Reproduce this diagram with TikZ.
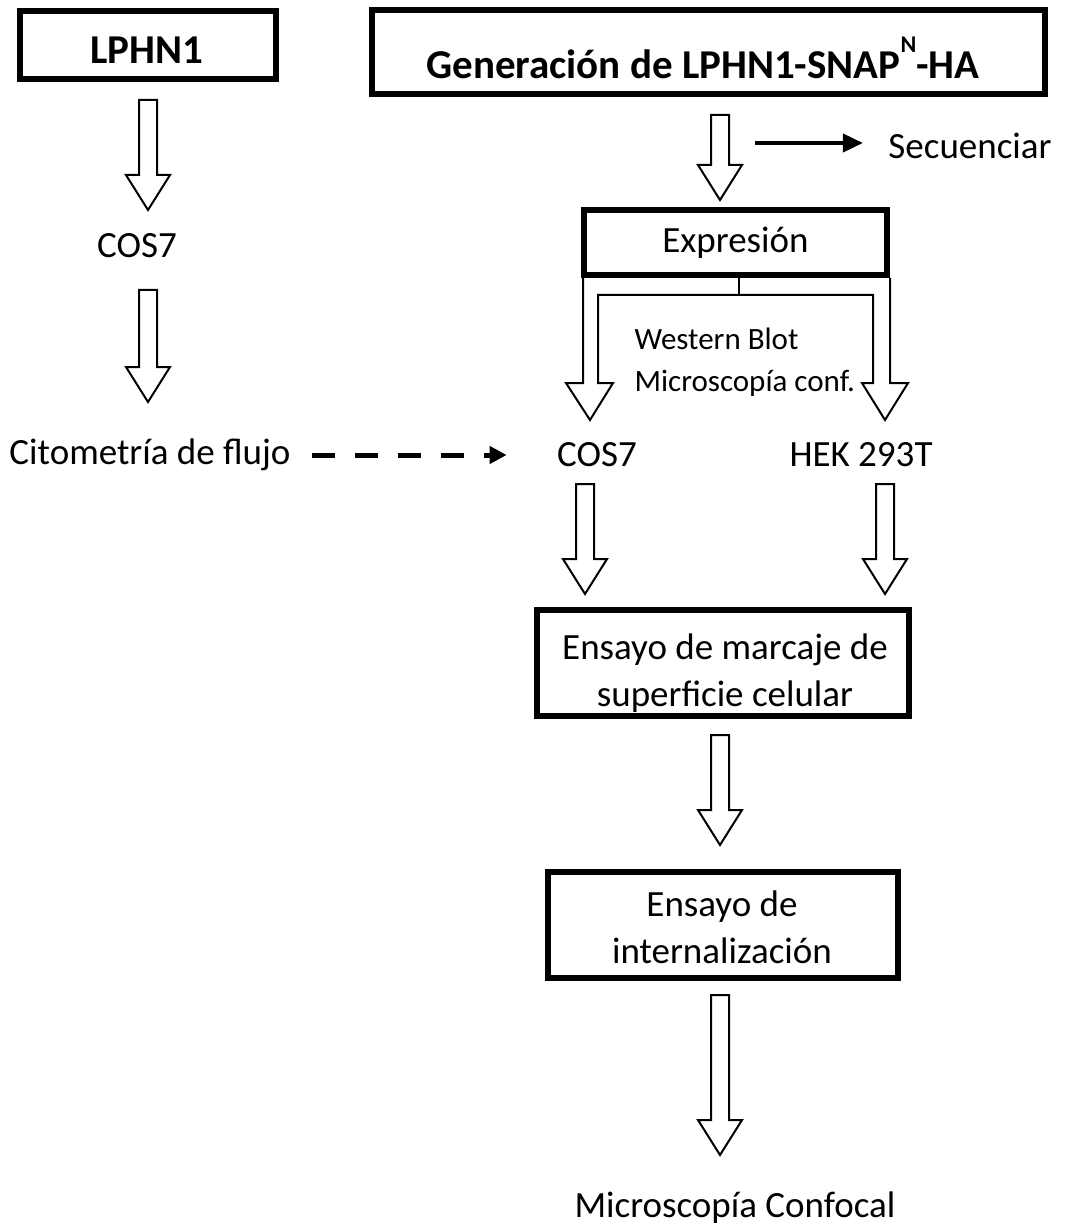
\documentclass[tikz,border=0pt]{standalone}
\usepackage{fontspec}
\setmainfont{Carlito}
\usetikzlibrary{arrows.meta,calc}

\tikzset{
  box/.style={draw, line width=6pt, align=center, inner sep=0pt},
  txt/.style={font=\fontsize{37}{47}\selectfont},
  title/.style={font=\bfseries\fontsize{41}{48}\selectfont},
  hollow/.style={draw, line width=2pt, line join=miter},
}
\newcommand\hollowarrow[2]{%
  \draw[hollow] let \p1=(#1), \p2=(#2) in
    (\x1-9pt,\y1) -- (\x1-9pt,\y2+35pt) -- (\x1-22pt,\y2+35pt) -- (\x2,\y2)
    -- (\x1+22pt,\y2+35pt) -- (\x1+9pt,\y2+35pt) -- (\x1+9pt,\y1) -- cycle;}

\begin{document}
\begin{tikzpicture}[x=1pt,y=-1pt]
    \useasboundingbox (0,0) rectangle (1066,1230);

    \node[box, minimum width=256pt, minimum height=68pt] (lphn) at (148,45) {};
    \node[title] (lphnt) at (147,50) {LPHN1};
    \node[box, minimum width=673pt, minimum height=84pt] (gen) at (708.5,52) {};
    \node[title] (gent) at (703,58) {Generación de LPHN1-SNAP\raisebox{0.62em}{\fontsize{24}{24}\selectfont N}-HA};
    \node[txt] (secu) at (970,146) {Secuenciar};
    \node[box, txt, minimum width=303pt, minimum height=65pt] (expr) at (735.5,242.5) {Expresión};
    \node[txt] (cosl) at (137,246) {COS7};
    \node[txt, font=\fontsize{31}{42}\selectfont, align=left, anchor=west] (wb) at (631,362) {Western Blot\\Microscopía conf.};
    \node[txt] (cito) at (150,455) {Citometría de flujo};
    \node[txt] (cosr) at (597,455) {COS7};
    \node[txt] (hek) at (861,455) {HEK 293T};
    \node[box, minimum width=372pt, minimum height=106pt] (marc) at (723,663) {};
    \node[txt, align=center] (marct) at (725,673) {Ensayo de marcaje de\\superficie celular};
    \node[box, minimum width=350pt, minimum height=106pt] (inte) at (722.5,925) {};
    \node[txt, align=center] (intet) at (722,927) {Ensayo de\\internalización};
    \node[txt] (conf) at (735,1208) {Microscopía Confocal};

    \coordinate (a1) at (148,100);  \coordinate (b1) at (148,210);
    \coordinate (a2) at (148,290);  \coordinate (b2) at (148,402);
    \coordinate (a3) at (720,115);  \coordinate (b3) at (720,200);
    \coordinate (a4) at (585,484);  \coordinate (b4) at (585,594);
    \coordinate (a5) at (885,484);  \coordinate (b5) at (885,594);
    \coordinate (a6) at (720,735);  \coordinate (b6) at (720,845);
    \coordinate (a7) at (720,995);  \coordinate (b7) at (720,1155);
    \foreach \i in {1,...,7}
        \hollowarrow{a\i}{b\i};

    \draw[hollow] (583,278) -- (583,383) -- (566,383) -- (590,420) -- (613,383)
        -- (598,383) -- (598,295) -- (873,295) -- (873,383) -- (862,383)
        -- (885,420) -- (908,383) -- (890,383) -- (890,278);
    \draw[hollow] (739,278) -- (739,295);

    \coordinate (s0) at (755,143);
    \draw[line width=4pt, -{Triangle[length=20pt,width=18pt]}, shorten >=22pt] (s0) -- (s0 -| secu.west);
    \draw[line width=5pt, dash pattern=on 23pt off 20pt, -{Triangle[length=17pt,width=17pt]},
        shorten <=18pt, shorten >=47pt] (cito.east) -- (cosr.west);
\end{tikzpicture}
\end{document}
